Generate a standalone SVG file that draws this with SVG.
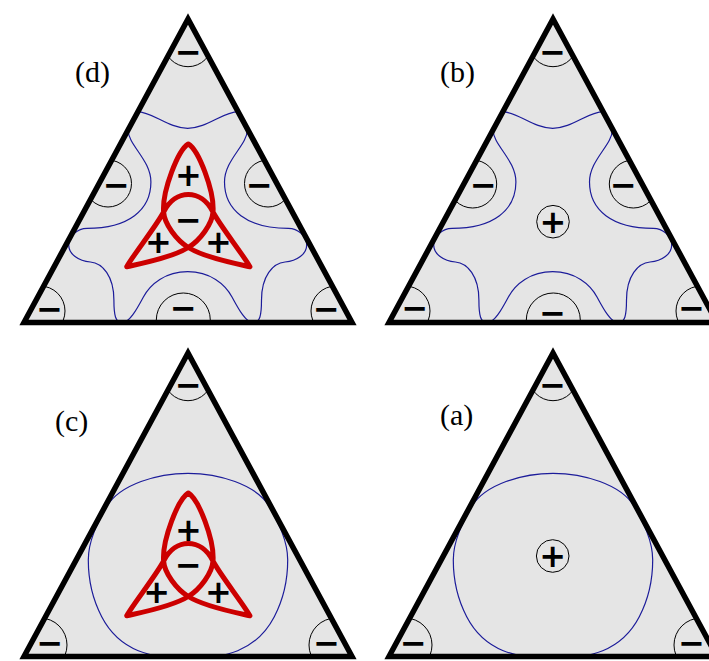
<svg xmlns="http://www.w3.org/2000/svg" xmlns:xlink="http://www.w3.org/1999/xlink" width="709" height="661" viewBox="0 0 709 661">
<style>
.tri{fill:#e5e5e5;stroke:none}
.edge{fill:none;stroke:#000;stroke-width:5.5;stroke-linejoin:miter}
.nod{fill:none;stroke:#1c1c9a;stroke-width:1.2}
.ring{fill:none;stroke:#000;stroke-width:1}
.knot{fill:none;stroke:#cc0000;stroke-width:5;stroke-linejoin:round}
.sg{font-family:"DejaVu Sans",sans-serif;font-weight:bold;font-size:32px;text-anchor:middle;dominant-baseline:central}
.lbl{font-family:"Liberation Serif","Times New Roman",serif;font-size:30px}
</style>
<defs>
<polygon id="triShape" points="188,19 24,322.5 352,322.5"/>
<clipPath id="triClip"><polygon points="188,19 24,322.5 352,322.5"/></clipPath>
<path id="star" d="M187.7,128.3 C207,128.3 223,111.7 238.3,111.7 C243.5,111.7 247.3,121 247.3,130 C247.3,145 224.5,160 224.5,182 C224.5,210 247,228.3 288.3,228.3 C298,228.3 306.7,236 306.7,245 C306.7,254 297,261 285,262 C273,263 261.5,276 261.5,300 C261.5,315 260,322.7 253.3,322.7 C246,322.7 239,310 232,297 C225,284 210,271.7 187.7,271.7 C165.4,271.7 150.4,284 143.4,297 C136.4,310 129.4,322.7 122.1,322.7 C115.4,322.7 113.9,315 113.9,300 C113.9,276 102.4,263 90.4,262 C78.4,261 68.7,254 68.7,245 C68.7,236 77.4,228.3 87.1,228.3 C128.4,228.3 150.9,210 150.9,182 C150.9,160 128.1,145 128.1,130 C128.1,121 131.9,111.7 137.1,111.7 C152.4,111.7 168.4,128.3 187.7,128.3 Z"/>
<path id="round" d="M188,139.3 C158,139.3 120,150 106.5,172.7 C99.4,185.9 88.3,205 88.3,226 C88.3,248 93,266 101.7,282.7 C110,298.7 122,310 138.3,316.7 C155,323.5 170,324 188,324 C206,324 221,323.5 237.7,316.7 C254,310 266,298.7 274.3,282.7 C283,266 287.7,248 287.7,226 C287.7,205 276.6,185.9 269.5,172.7 C256,150 218,139.3 188,139.3 Z"/>
<path id="trefoil" d="M188.3,144 C198.6,150 214.5,191 213,212 C212.2,224 200.2,240.1 188.3,247.5 C171.3,258.1 141.3,263.4 126.7,266.7 C133.6,254.5 156.75,225.4 163.6,212 C175.4,188.7 201.2,188.7 213,212 C219.85,225.4 243,254.5 249.9,266.7 C235.3,263.4 205.3,258.1 188.3,247.5 C176.4,240.1 164.4,224 163.6,212 C162.1,191 178,150 188.3,144 Z"/>
</defs>

<g id="panel-d">
  <use xlink:href="#triShape" class="tri"/>
  <g clip-path="url(#triClip)">
    <use xlink:href="#star" class="nod"/>
    <circle class="ring" cx="188" cy="42.3" r="24.4"/>
    <circle class="ring" cx="108" cy="183.5" r="23.5"/>
    <circle class="ring" cx="268" cy="183.5" r="23.5"/>
    <circle class="ring" cx="183.3" cy="320" r="27"/>
    <circle class="ring" cx="40" cy="311" r="25"/>
    <circle class="ring" cx="336" cy="311" r="25"/>
  </g>
  <use xlink:href="#trefoil" class="knot"/>
  <text class="sg" x="188.3" y="51.7">−</text>
  <text class="sg" x="116.5" y="185">−</text>
  <text class="sg" x="259.5" y="185">−</text>
  <text class="sg" x="183.3" y="308.3">−</text>
  <text class="sg" x="49.7" y="309">−</text>
  <text class="sg" x="326.3" y="309">−</text>
  <text class="sg" x="188.3" y="175">+</text>
  <text class="sg" x="188.3" y="220">−</text>
  <text class="sg" x="158.3" y="241.7">+</text>
  <text class="sg" x="218.3" y="241.7">+</text>
  <use xlink:href="#triShape" class="edge"/>
  <text class="lbl" x="75" y="82">(d)</text>
</g>

<g id="panel-b" transform="translate(365,0)">
  <use xlink:href="#triShape" class="tri"/>
  <g clip-path="url(#triClip)">
    <use xlink:href="#star" class="nod"/>
    <circle class="ring" cx="188" cy="42.3" r="24.4"/>
    <circle class="ring" cx="107.7" cy="184" r="24"/>
    <circle class="ring" cx="268.3" cy="184" r="24"/>
    <circle class="ring" cx="188.3" cy="320" r="27"/>
    <circle class="ring" cx="40" cy="311" r="25"/>
    <circle class="ring" cx="336" cy="311" r="25"/>
    <circle class="ring" cx="188" cy="221.7" r="16.3"/>
  </g>
  <text class="sg" x="187.7" y="51.7">−</text>
  <text class="sg" x="118.3" y="185">−</text>
  <text class="sg" x="258.3" y="185">−</text>
  <text class="sg" x="187.7" y="313.3">−</text>
  <text class="sg" x="50" y="308.3">−</text>
  <text class="sg" x="326.7" y="308.3">−</text>
  <text class="sg" x="188" y="221.7">+</text>
  <use xlink:href="#triShape" class="edge"/>
  <text class="lbl" x="75" y="82">(b)</text>
</g>

<g id="panel-c" transform="translate(0,334)">
  <use xlink:href="#triShape" class="tri"/>
  <g clip-path="url(#triClip)">
    <use xlink:href="#round" class="nod"/>
    <circle class="ring" cx="188" cy="42.3" r="24.4"/>
    <circle class="ring" cx="40" cy="311" r="27"/>
    <circle class="ring" cx="336" cy="311" r="27"/>
  </g>
  <use xlink:href="#trefoil" class="knot" transform="translate(0,15)"/>
  <text class="sg" x="188.3" y="51">−</text>
  <text class="sg" x="50" y="309.3">−</text>
  <text class="sg" x="326.7" y="309.3">−</text>
  <text class="sg" x="188.3" y="196">+</text>
  <text class="sg" x="188.3" y="231">−</text>
  <text class="sg" x="156.7" y="257.7">+</text>
  <text class="sg" x="218.3" y="257.7">+</text>
  <use xlink:href="#triShape" class="edge"/>
  <text class="lbl" x="55" y="97">(c)</text>
</g>

<g id="panel-a" transform="translate(365,334)">
  <use xlink:href="#triShape" class="tri"/>
  <g clip-path="url(#triClip)">
    <use xlink:href="#round" class="nod"/>
    <circle class="ring" cx="188" cy="42.3" r="24.4"/>
    <circle class="ring" cx="40" cy="311" r="27"/>
    <circle class="ring" cx="336" cy="311" r="27"/>
    <circle class="ring" cx="187.7" cy="222" r="16.3"/>
  </g>
  <text class="sg" x="187.7" y="51">−</text>
  <text class="sg" x="48.3" y="309.3">−</text>
  <text class="sg" x="326.7" y="309.3">−</text>
  <text class="sg" x="187.7" y="222">+</text>
  <use xlink:href="#triShape" class="edge"/>
  <text class="lbl" x="75" y="91">(a)</text>
</g>
</svg>
